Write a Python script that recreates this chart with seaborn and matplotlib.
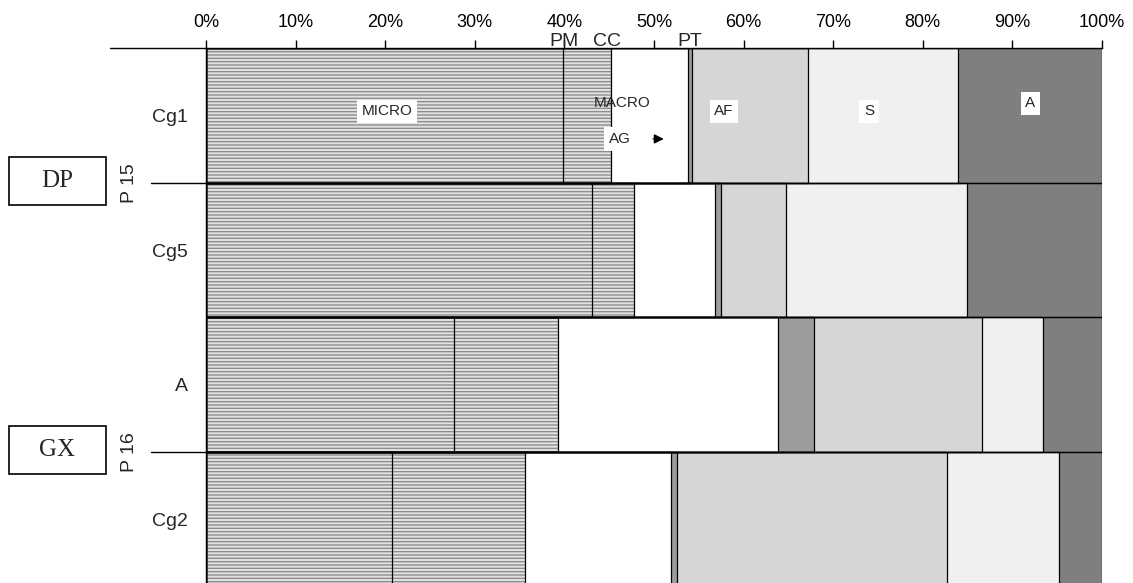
import numpy as np
import pandas as pd
import matplotlib.pyplot as plt
import matplotlib.patches as mpatches
import seaborn as sns

# Composition of each horizon (percent of total area)
samples = ["Cg1", "Cg5", "A", "Cg2"]
components = ["PM", "CC", "AG", "PT", "AF", "S", "A"]
pm = [39.8, 43.1, 27.7, 20.8]
cc = [5.4, 4.7, 11.6, 14.8]
ag = [8.6, 9.0, 24.5, 16.3]
pt = [0.4, 0.7, 4.1, 0.7]
af = [13.0, 7.2, 18.7, 30.1]
s_vals = [16.7, 20.2, 6.8, 12.5]
a_vals = [16.1, 15.1, 6.6, 4.8]

profiles = ["P 15", "P 16"]
profile_codes = ["DP", "GX"]
xticks = list(range(0, 101, 10))

# Fill style for each component
face = {"PM": "#e2e2e2", "CC": "#e2e2e2", "AG": "white", "PT": "#9c9c9c",
        "AF": "#d6d6d6", "S": "#f0f0f0", "A": "#7f7f7f"}
hatch = {"PM": "-----", "CC": "-----"}

sns.set_style("ticks")
plt.rcParams["font.family"] = ["Liberation Sans", "DejaVu Sans"]
plt.rcParams["hatch.linewidth"] = 1.0

df = pd.DataFrame({"PM": pm, "CC": cc, "AG": ag, "PT": pt, "AF": af,
                   "S": s_vals, "A": a_vals}, index=samples)
cum = df.cumsum(axis=1)

fig = plt.figure(figsize=(11.33, 5.83), dpi=100)
ax = fig.add_axes([206 / 1133, 0, 896 / 1133, 535 / 583])

# stacked bars drawn as overlapping cumulative bars, widest first
for comp in reversed(components):
    sns.barplot(x=cum[comp].values, y=samples, orient="h", color=face[comp],
                saturation=1, width=1, ax=ax, linewidth=0)
    n = len(samples)
    for p in ax.patches[-n:]:
        p.set_facecolor(face[comp])
        if comp in hatch:
            p.set_hatch(hatch[comp])
            p.set_edgecolor("#8e8e8e")
            p.set_linewidth(0)

# outlines
for comp in reversed(components):
    sns.barplot(x=cum[comp].values, y=samples, orient="h", color="black",
                fill=False, width=1, ax=ax, linewidth=0.9)

ax.set_xlim(0, 100)
ax.set_ylim(3.472, -0.5)
ax.xaxis.tick_top()
ax.set_xticks(xticks)
ax.set_xticklabels([f"{v}%" for v in xticks], fontsize=13)
ax.tick_params(axis="x", direction="out", length=6, width=1, pad=6, colors="black")
ax.tick_params(axis="y", length=0, pad=13, labelsize=14)
ax.set_xlabel("")
ax.set_ylabel("")
for side in ["right", "bottom"]:
    ax.spines[side].set_visible(False)
for side in ["top", "left"]:
    ax.spines[side].set_linewidth(1)
    ax.spines[side].set_color("black")

# top rule extended to the left, and group dividers
ax.plot([-0.107, 0], [1, 1], transform=ax.transAxes, clip_on=False, color="black", lw=1)
ytr = ax.get_yaxis_transform()
for i, (prof, code) in enumerate(zip(profiles, profile_codes)):
    yc = 0.5 + 2 * i
    ax.plot([-0.0614, 0], [yc, yc], transform=ytr, clip_on=False, color="black", lw=1)
    ax.text(-0.085, yc, prof, transform=ytr, rotation=90, ha="center", va="center", fontsize=14)
    # code box on the far left
    ypix = ax.transData.transform((0, yc))[1]
    yfig = fig.transFigure.inverted().transform((0, ypix))[1] + 2 / 583
    fig.patches.append(mpatches.Rectangle((9 / 1133, yfig - 24 / 583), 97 / 1133, 48 / 583,
                                          transform=fig.transFigure, fill=False,
                                          edgecolor="black", lw=1.2))
    fig.text(57.5 / 1133, yfig, code, ha="center", va="center", fontsize=18,
             family=["Liberation Serif", "DejaVu Serif"])

# component names above the first row
top_tr = ax.get_xaxis_transform()
for name, xv in [("PM", 40.0), ("CC", 44.7), ("PT", 54.0)]:
    ax.text(xv, 1.013, name, transform=top_tr, ha="center", va="center", fontsize=14)

# labels inside the first bar
box = dict(boxstyle="square,pad=0.3", facecolor="white", edgecolor="none")
for name, xv, yv in [("MICRO", 20.2, -0.03), ("AF", 57.8, -0.03), ("S", 74.0, -0.03),
                     ("A", 92.0, -0.09)]:
    ax.text(xv, yv, name, ha="center", va="center", fontsize=11, bbox=box)
ax.text(46.4, -0.095, "MACRO", ha="center", va="center", fontsize=11)
ax.text(46.2, 0.175, "AG", ha="center", va="center", fontsize=11, bbox=box)
ax.annotate("", xy=(51.4, 0.175), xytext=(49.6, 0.175),
            arrowprops=dict(arrowstyle="-|>", color="black", lw=1, mutation_scale=14))

fig.savefig("out.png", dpi=100)
